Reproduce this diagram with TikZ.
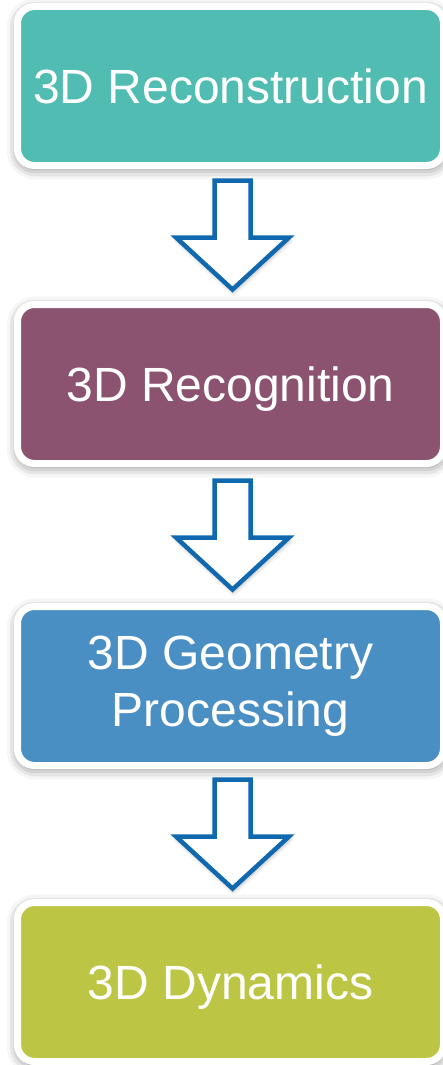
\documentclass[tikz,border=0pt]{standalone}
\usepackage{fontspec}
\setmainfont{Liberation Sans}
\usetikzlibrary{shadows.blur,calc}
\definecolor{cteal}{HTML}{50BCB2}
\definecolor{cplum}{HTML}{8B5370}
\definecolor{cblue}{HTML}{4A8FC4}
\definecolor{colive}{HTML}{BDC644}
\definecolor{carrow}{HTML}{1068AE}
\tikzset{
  stagebox/.style={draw=white, line width=7pt, rounded corners=17pt,
    minimum width=426pt, minimum height=159pt, inner sep=0pt,
    text=white, font=\fontsize{48}{57}\selectfont, align=center,
    blur shadow={shadow xshift=0.5pt, shadow yshift=-3pt, shadow blur radius=11pt, shadow opacity=55}},
  onel/.style={text height=35pt, text depth=0pt},
  hollowarrow/.pic={
    \draw[carrow, fill=white, line width=4.5pt, line join=miter,
      blur shadow={shadow xshift=1pt, shadow yshift=-3pt, shadow blur radius=4pt, shadow opacity=30}]
      (-18,-54.5) -- (18,-54.5) -- (18,2.5) -- (56.5,2.5) -- (0,54.5)
      -- (-56.5,2.5) -- (-18,2.5) -- cycle;
  }
}
\begin{document}
\begin{tikzpicture}[x=1pt,y=-1pt]
\useasboundingbox (0,0) rectangle (442,1065);
\node[stagebox, onel, fill=cteal]  (b1) at (230.5,86) {3D Reconstruction};
\node[stagebox, onel, fill=cplum]  (b2) at (230.5,384) {3D Recognition};
\node[stagebox, fill=cblue, yshift=-3pt] (b3) at (230.5,683) {3D Geometry\\Processing};
\node[stagebox, onel, fill=colive] (b4) at (230.5,982) {3D Dynamics};
\path ($(b1.south)!0.5!(b2.north)+(2,0)$) pic {hollowarrow};
\path ($(b2.south)!0.5!(b3.north)+(2,0)$) pic {hollowarrow};
\path ($(b3.south)!0.5!(b4.north)+(2,0)$) pic {hollowarrow};
\end{tikzpicture}
\end{document}
